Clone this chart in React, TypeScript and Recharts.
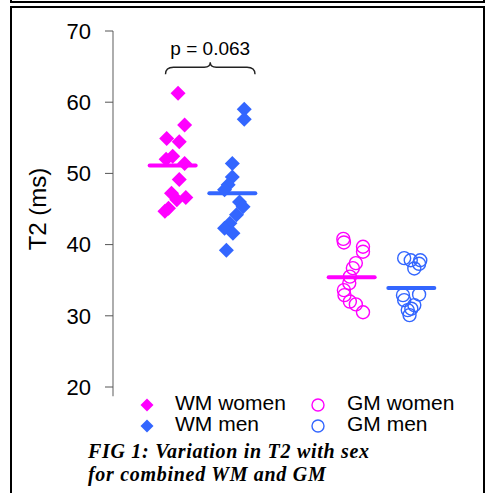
import React from "react";
import { ScatterChart, Scatter, XAxis, YAxis, ReferenceLine } from "recharts";

// ---- data ----
const categories = ["WM women", "WM men", "GM women", "GM men"];
const categoryX = [1, 2, 4, 5];
const seriesColors = ["#FF00FF", "#3366FF", "#FF00FF", "#3366FF"];
const seriesShapes = ["diamond", "diamond", "circle", "circle"];

const wmWomenX = [1.09, 1.2, 0.9, 1.11, 1.0, 0.89, 1.2, 1.11, 0.98, 1.22, 1.07, 0.93, 0.87];
const wmWomenT2 = [61.25, 56.8, 54.9, 54.45, 52.4, 52.0, 51.4, 49.15, 47.2, 46.6, 46.3, 45.1, 44.7];

const wmMenX = [2.2, 2.2, 2.0, 2.0, 1.93, 1.87, 2.12, 2.18, 2.07, 1.96, 1.87, 2.01, 1.9];
const wmMenT2 = [59.0, 57.6, 51.4, 49.5, 48.4, 47.7, 46.0, 45.3, 44.2, 43.0, 42.3, 41.6, 39.2];

const gmWomenX = [3.86, 3.87, 4.19, 4.19, 4.07, 4.02, 3.97, 3.96, 3.87, 3.88, 3.97, 4.07, 4.19];
const gmWomenT2 = [40.8, 40.3, 39.7, 39.0, 37.4, 36.7, 35.5, 34.6, 33.6, 32.9, 32.0, 31.6, 30.5];

const gmMenX = [4.88, 4.99, 5.13, 5.15, 5.05, 5.13, 4.86, 4.88, 5.05, 4.94, 4.97, 5.0];
const gmMenT2 = [38.1, 37.8, 37.3, 37.8, 36.65, 33.0, 32.9, 32.2, 31.5, 30.8, 30.1, 31.0];

const groupMeans = [51.1, 47.2, 35.4, 33.9];
const yTicks = [20, 30, 40, 50, 60, 70];
const yDomain = [20, 70];
const xDomain = [0, 6];
const yLabel = "T2 (ms)";
const pValueLabel = "p = 0.063";
const braceFrom = [0.88, 64.9];
const braceTo = [2.38, 64.9];
const captionLines = ["FIG 1: Variation in T2 with sex", "for combined WM and GM"];

const seriesX = [wmWomenX, wmMenX, gmWomenX, gmMenX];
const seriesY = [wmWomenT2, wmMenT2, gmWomenT2, gmMenT2];
const seriesData = seriesX.map((xs, i) => xs.map((x, j) => ({ x, y: seriesY[i][j] })));
const meanData = categoryX.map((x, i) => ({ x, y: groupMeans[i], color: seriesColors[i] }));

const AXIS_FONT = "'Liberation Sans', Arial, sans-serif";

function DiamondShape(props: any) {
  const { cx, cy, fill } = props;
  const h = 7.5;
  return (
    <polygon
      points={`${cx},${cy - h} ${cx + h},${cy} ${cx},${cy + h} ${cx - h},${cy}`}
      fill={fill}
    />
  );
}

function CircleShape(props: any) {
  const { cx, cy, stroke } = props;
  return <circle cx={cx} cy={cy} r={6.5} fill="none" stroke={stroke} strokeWidth={1.4} />;
}

function MeanShape(props: any) {
  const { cx, cy, payload } = props;
  return (
    <line
      x1={cx - 23}
      x2={cx + 23}
      y1={cy}
      y2={cy}
      stroke={payload.color}
      strokeWidth={4}
      strokeLinecap="round"
    />
  );
}

function BraceShape(props: any) {
  const { x1, x2, y1 } = props;
  const mid = (x1 + x2) / 2;
  const y = y1;
  const d = `M ${x1} ${y + 7} Q ${x1} ${y} ${x1 + 8} ${y} L ${mid - 6} ${y} Q ${mid} ${y} ${mid} ${y - 5} Q ${mid} ${y} ${mid + 6} ${y} L ${x2 - 8} ${y} Q ${x2} ${y} ${x2} ${y + 7}`;
  return (
    <g>
      <path d={d} fill="none" stroke="#222" strokeWidth={1.4} />
      <text
        x={mid}
        y={y - 12}
        textAnchor="middle"
        fontFamily={AXIS_FONT}
        fontSize={19}
        fill="#000"
      >
        {pValueLabel}
      </text>
    </g>
  );
}

function YLabel(props: any) {
  const vb = props.viewBox || { x: 0, y: 31, width: 113, height: 356 };
  const cx = 37;
  const cy = vb.y + vb.height / 2;
  return (
    <text
      x={cx}
      y={cy}
      transform={`rotate(-90, ${cx}, ${cy})`}
      textAnchor="middle"
      dominantBaseline="central"
      fontFamily={AXIS_FONT}
      fontSize={24}
      fill="#000"
    >
      {yLabel}
    </text>
  );
}

function LegendIcon({ shape, color }: { shape: string; color: string }) {
  return (
    <svg width={16} height={16} style={{ display: "block" }}>
      {shape === "diamond" ? (
        <polygon points="8,1.5 14.5,8 8,14.5 1.5,8" fill={color} />
      ) : (
        <circle cx={8} cy={8} r={6} fill="none" stroke={color} strokeWidth={1.4} />
      )}
    </svg>
  );
}

const legendPos = [
  { iconX: 139, textX: 175, top: 397 },
  { iconX: 139, textX: 175, top: 418 },
  { iconX: 310, textX: 347, top: 397 },
  { iconX: 310, textX: 347, top: 418 },
];

export default function App() {
  return (
    <div
      style={{
        position: "absolute",
        left: 0,
        top: 0,
        width: 490,
        height: 493,
        overflow: "hidden",
        background: "#fff",
      }}
    >
      <div
        style={{
          position: "absolute",
          left: 10,
          top: -21,
          width: 475,
          height: 24,
          border: "2px solid #000",
          boxSizing: "border-box",
        }}
      />
      <div
        style={{
          position: "absolute",
          left: 10,
          top: 6,
          width: 475,
          height: 510,
          border: "2px solid #000",
          boxSizing: "border-box",
        }}
      />
      <div style={{ position: "absolute", left: 0, top: 0 }}>
        <ScatterChart
          width={490}
          height={493}
          margin={{ top: 31, right: 19, bottom: 106, left: 0 }}
        >
          <XAxis
            type="number"
            dataKey="x"
            domain={xDomain}
            height={0}
            tick={false}
            tickLine={false}
            axisLine={{ stroke: "#9a9a9a", strokeWidth: 1 }}
          />
          <YAxis
            type="number"
            dataKey="y"
            domain={yDomain}
            ticks={yTicks}
            width={113}
            tickSize={8}
            tickMargin={14}
            axisLine={{ stroke: "#777", strokeWidth: 1.2 }}
            tickLine={{ stroke: "#555", strokeWidth: 1 }}
            tick={{ fontFamily: AXIS_FONT, fontSize: 22, fill: "#000" }}
            label={<YLabel />}
          />
          <ReferenceLine
            segment={[
              { x: 0, y: 20 },
              { x: 0, y: 18.7 },
            ]}
            stroke="#777"
            strokeWidth={1.2}
            ifOverflow="visible"
          />
          <ReferenceLine
            segment={[
              { x: braceFrom[0], y: braceFrom[1] },
              { x: braceTo[0], y: braceTo[1] },
            ]}
            ifOverflow="visible"
            shape={<BraceShape />}
          />
          <Scatter
            name="means"
            data={meanData}
            isAnimationActive={false}
            shape={<MeanShape />}
            legendType="none"
          />
          {categories.map((name, i) => (
            <Scatter
              key={name}
              name={name}
              data={seriesData[i]}
              fill={seriesColors[i]}
              stroke={seriesColors[i]}
              isAnimationActive={false}
              shape={seriesShapes[i] === "diamond" ? <DiamondShape /> : <CircleShape />}
            />
          ))}
        </ScatterChart>
      </div>
      {categories.map((name, i) => (
        <React.Fragment key={name}>
          <div style={{ position: "absolute", left: legendPos[i].iconX, top: legendPos[i].top }}>
            <LegendIcon shape={seriesShapes[i]} color={seriesColors[i]} />
          </div>
          <div
            style={{
              position: "absolute",
              left: legendPos[i].textX,
              top: legendPos[i].top - 6,
              fontFamily: AXIS_FONT,
              fontSize: 21,
              lineHeight: "24px",
              color: "#000",
              whiteSpace: "nowrap",
            }}
          >
            {name}
          </div>
        </React.Fragment>
      ))}
      <div
        style={{
          position: "absolute",
          left: 88,
          top: 440,
          fontFamily: "'Liberation Serif', 'Times New Roman', serif",
          fontWeight: "bold",
          fontStyle: "italic",
          fontSize: 20,
          letterSpacing: "0.7px",
          lineHeight: "23px",
          color: "#000",
          whiteSpace: "nowrap",
        }}
      >
        {captionLines.map((l) => (
          <div key={l}>{l}</div>
        ))}
      </div>
    </div>
  );
}
